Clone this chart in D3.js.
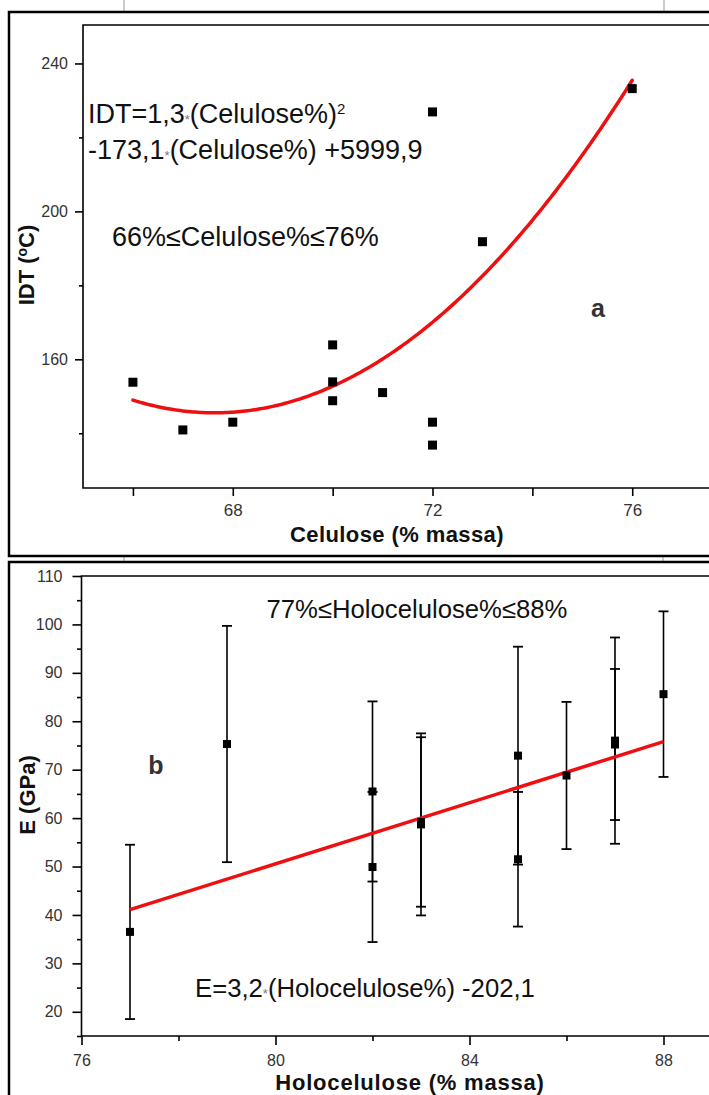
<!DOCTYPE html>
<html><head><meta charset="utf-8">
<script src="https://cdn.jsdelivr.net/npm/d3@7"></script>
<style>
html,body{margin:0;padding:0;background:#fff;}
svg{display:block;font-family:"Liberation Sans",Arial,sans-serif;}
</style></head>
<body>
<svg id="chart" width="709" height="1095"></svg>
<script>
// ---------- data ----------
// Panel a: IDT vs Celulose
const celuloseX = [66, 67, 68, 70, 70, 70, 71, 72, 72, 72, 73, 76];
const idtY      = [153.8, 140.9, 143.0, 163.9, 153.9, 148.8, 151.0, 226.9, 143.0, 136.8, 191.8, 233.2];
const celDomain = [65, 78];
const idtDomain = [125.2, 250.4];
const celTicks  = [68, 72, 76];
const celMinor  = [66, 70, 74];
const idtTicks  = [160, 200, 240];
const idtMinor  = [140, 180, 220];

// Panel b: E vs Holocelulose
const holoX     = [77, 79, 82, 82, 83, 83, 85, 85, 86, 87, 87, 88];
const eY        = [36.5, 75.3, 65.5, 49.9, 58.7, 59.2, 72.9, 51.5, 68.8, 76.0, 75.2, 85.6];
const eErr      = [18.0, 24.4, 18.6, 15.5, 18.8, 17.5, 22.5, 13.9, 15.2, 21.3, 15.6, 17.1];
const eFit      = [3.155, -201.85];        // slope, intercept of red line as drawn
const holoDomain = [76, 89.5];
const eDomain   = [15, 110];
const holoTicks = [76, 80, 84, 88];
const holoMinor = [78, 82, 86];
const eTicks    = [20, 30, 40, 50, 60, 70, 80, 90, 100, 110];
const eMinor    = [15, 25, 35, 45, 55, 65, 75, 85, 95, 105];

const svg = d3.select("#chart");
const RED = "#ee1010";

// ---------- least squares quadratic for panel a ----------
function quadFit(xs, ys) {
  let S = [0,0,0,0,0], T = [0,0,0];
  xs.forEach((x,i)=>{ let p=1; for(let k=0;k<5;k++){S[k]+=p; if(k<3) T[k]+=p*ys[i]; p*=x;} });
  const A = [[S[0],S[1],S[2],T[0]],[S[1],S[2],S[3],T[1]],[S[2],S[3],S[4],T[2]]];
  for (let i=0;i<3;i++){ for(let j=i+1;j<3;j++){ const f=A[j][i]/A[i][i]; for(let k=i;k<4;k++) A[j][k]-=f*A[i][k]; } }
  const c=[0,0,0];
  for (let i=2;i>=0;i--){ let s=A[i][3]; for(let k=i+1;k<3;k++) s-=A[i][k]*c[k]; c[i]=s/A[i][i]; }
  return c;
}

// ---------- decorative outer frames ----------
[[124,0,12],[664,0,12],[124,556,562],[663,556,562]].forEach(([x,a,b])=>
  svg.append("line").attr("x1",x).attr("x2",x).attr("y1",a).attr("y2",b).attr("stroke","#999").attr("stroke-width",1));
svg.append("rect").attr("x",9).attr("y",12).attr("width",720).attr("height",544)
  .attr("fill","none").attr("stroke","#000").attr("stroke-width",2.5);
svg.append("rect").attr("x",9).attr("y",562).attr("width",720).attr("height",560)
  .attr("fill","none").attr("stroke","#000").attr("stroke-width",2.5);

function styleAxis(g, fs) {
  g.select(".domain").remove();
  g.selectAll("line").attr("stroke","#000").attr("stroke-width",1.6);
  g.selectAll("text").attr("fill","#333").attr("font-size",fs+"px").attr("font-family","'Liberation Sans',Arial,sans-serif");
}
function eqText(g, x, y, fs, parts) {
  const t = g.append("text").attr("x",x).attr("y",y).attr("font-size",fs+"px").attr("fill","#111");
  parts.forEach(p=>{
    if (p.star) t.append("tspan").attr("font-size","13px").attr("fill","#777").attr("dy",1).text("*");
    else if (p.sup) t.append("tspan").attr("font-size","15px").attr("dy",-9).text(p.sup);
    else t.append("tspan").attr("dy", p.dy||0).text(p.t);
  });
  return t;
}

// ================= Panel a =================
const xA = d3.scaleLinear().domain(celDomain).range([83, 83 + 13*49.93]);
const yA = d3.scaleLinear().domain(idtDomain).range([488, 25]);
const gA = svg.append("g");

gA.append("path")
  .attr("d", `M${xA.range()[1]},${yA(idtDomain[1])}H${xA(celDomain[0])}V${yA(idtDomain[0])}H${xA.range()[1]}`)
  .attr("fill","none").attr("stroke","#000").attr("stroke-width",1.6);

styleAxis(gA.append("g").attr("transform",`translate(${xA(celDomain[0])},0)`)
  .call(d3.axisLeft(yA).tickValues(idtTicks).tickSize(8).tickPadding(7).tickFormat(d3.format("d"))), 16);
styleAxis(gA.append("g").attr("transform",`translate(${xA(celDomain[0])},0)`)
  .call(d3.axisLeft(yA).tickValues(idtMinor).tickSize(4).tickFormat("")), 16);
styleAxis(gA.append("g").attr("transform",`translate(0,${yA(idtDomain[0])})`)
  .call(d3.axisBottom(xA).tickValues(celTicks).tickSize(8).tickPadding(8).tickFormat(d3.format("d"))), 17);
styleAxis(gA.append("g").attr("transform",`translate(0,${yA(idtDomain[0])})`)
  .call(d3.axisBottom(xA).tickValues(celMinor).tickSize(8).tickFormat("")), 17);

gA.append("text").attr("x",397).attr("y",542).attr("text-anchor","middle")
  .attr("font-size","22px").attr("font-weight","bold").attr("fill","#111").attr("letter-spacing","0.4px")
  .text("Celulose (% massa)");
const tA = gA.append("text").attr("transform","translate(34,265) rotate(-90)").attr("text-anchor","middle")
  .attr("font-size","22px").attr("font-weight","bold").attr("fill","#111");
tA.append("tspan").text("IDT (");
tA.append("tspan").attr("font-size","14px").attr("dy",-7).text("o");
tA.append("tspan").attr("dy",7).text("C)");

// fitted quadratic curve (least squares on the points)
const cq = quadFit(celuloseX, idtY);
const curveXs = d3.range(d3.min(celuloseX), d3.max(celuloseX)+0.001, 0.05);
gA.append("path").datum(curveXs)
  .attr("d", d3.line().x(d=>xA(d)).y(d=>yA(cq[0]+cq[1]*d+cq[2]*d*d)))
  .attr("fill","none").attr("stroke",RED).attr("stroke-width",3.5).attr("stroke-linecap","round");

gA.selectAll("rect.pt").data(celuloseX).join("rect").attr("class","pt")
  .attr("x",d=>xA(d)-4.5).attr("y",(d,i)=>yA(idtY[i])-4.5).attr("width",9).attr("height",9).attr("fill","#000");

eqText(gA, 88, 123, 27, [{t:"IDT=1,3"},{star:1},{t:"(Celulose%)",dy:-1},{sup:"2"}]);
eqText(gA, 88, 159, 27, [{t:"-173,1"},{star:1},{t:"(Celulose%) +5999,9",dy:-1}]);
gA.append("text").attr("x",112).attr("y",246).attr("font-size","27px").attr("fill","#111").text("66%≤Celulose%≤76%");
gA.append("text").attr("x",598).attr("y",317).attr("text-anchor","middle").attr("font-size","25px")
  .attr("font-weight","bold").attr("fill","#333").text("a");

// ================= Panel b =================
const xB = d3.scaleLinear().domain(holoDomain).range([81.5, 81.5 + 13.5*48.5]);
const yB = d3.scaleLinear().domain(eDomain).range([1036, 576]);
const gB = svg.append("g");

gB.append("path")
  .attr("d", `M${xB.range()[1]},${yB(eDomain[1])}H${xB(holoDomain[0])}V${yB(eDomain[0])}H${xB.range()[1]}`)
  .attr("fill","none").attr("stroke","#000").attr("stroke-width",1.6);

styleAxis(gB.append("g").attr("transform",`translate(${xB(holoDomain[0])},0)`)
  .call(d3.axisLeft(yB).tickValues(eTicks).tickSize(9).tickPadding(10).tickFormat(d3.format("d"))), 16);
styleAxis(gB.append("g").attr("transform",`translate(${xB(holoDomain[0])},0)`)
  .call(d3.axisLeft(yB).tickValues(eMinor).tickSize(4.5).tickFormat("")), 16);
styleAxis(gB.append("g").attr("transform",`translate(0,${yB(eDomain[0])})`)
  .call(d3.axisBottom(xB).tickValues(holoTicks).tickSize(9).tickPadding(10).tickFormat(d3.format("d"))), 16);
styleAxis(gB.append("g").attr("transform",`translate(0,${yB(eDomain[0])})`)
  .call(d3.axisBottom(xB).tickValues(holoMinor).tickSize(5).tickFormat("")), 16);

gB.append("text").attr("x",410).attr("y",1090).attr("text-anchor","middle")
  .attr("font-size","22px").attr("font-weight","bold").attr("fill","#111").attr("letter-spacing","0.8px")
  .text("Holocelulose (% massa)");
gB.append("text").attr("transform","translate(35,795) rotate(-90)").attr("text-anchor","middle")
  .attr("font-size","22px").attr("font-weight","bold").attr("fill","#111").text("E (GPa)");

// error bars
const eb = gB.selectAll("g.eb").data(holoX).join("g").attr("class","eb");
eb.append("line").attr("x1",d=>xB(d)).attr("x2",d=>xB(d))
  .attr("y1",(d,i)=>yB(eY[i]+eErr[i])).attr("y2",(d,i)=>yB(eY[i]-eErr[i]))
  .attr("stroke","#000").attr("stroke-width",1.6);
[1,-1].forEach(s=>
  eb.append("line").attr("x1",d=>xB(d)-5).attr("x2",d=>xB(d)+5)
    .attr("y1",(d,i)=>yB(eY[i]+s*eErr[i])).attr("y2",(d,i)=>yB(eY[i]+s*eErr[i]))
    .attr("stroke","#000").attr("stroke-width",1.8));

// fit line
gB.append("path").datum([d3.min(holoX), d3.max(holoX)])
  .attr("d", d3.line().x(d=>xB(d)).y(d=>yB(eFit[0]*d+eFit[1])))
  .attr("fill","none").attr("stroke",RED).attr("stroke-width",3.5);

gB.selectAll("rect.pt").data(holoX).join("rect").attr("class","pt")
  .attr("x",d=>xB(d)-4).attr("y",(d,i)=>yB(eY[i])-4).attr("width",8).attr("height",8).attr("fill","#000");

gB.append("text").attr("x",417).attr("y",618).attr("text-anchor","middle").attr("font-size","25.7px")
  .attr("fill","#111").text("77%≤Holocelulose%≤88%");
eqText(gB, 195, 997, 25.7, [{t:"E=3,2"},{star:1},{t:"(Holocelulose%) -202,1",dy:-1}]);
gB.append("text").attr("x",156).attr("y",774).attr("text-anchor","middle").attr("font-size","25px")
  .attr("font-weight","bold").attr("fill","#333").text("b");
</script>
</body></html>
